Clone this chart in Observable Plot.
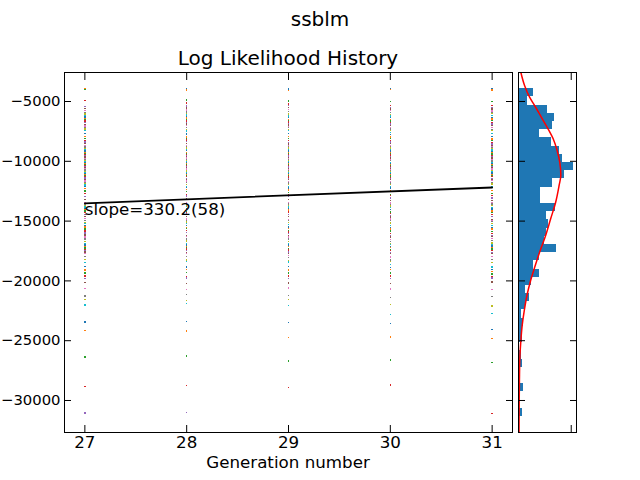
<!DOCTYPE html>
<html><head><meta charset="utf-8">
<script src="https://cdn.jsdelivr.net/npm/d3@7"></script>
<script src="https://cdn.jsdelivr.net/npm/@observablehq/plot@0.6"></script>
<style>
body{margin:0;background:#fff;}
#fig{position:relative;width:640px;height:480px;font-family:"DejaVu Sans",sans-serif;color:#000;overflow:hidden;}
#fig svg{position:absolute;left:0;top:0;}
.t{position:absolute;white-space:nowrap;line-height:normal;transform:translateX(-50%);}
</style></head><body>
<div id="fig">
<div class="t" style="left:320px;top:7px;font-size:20px">ssblm</div>
<div class="t" style="left:288px;top:46px;font-size:20px">Log Likelihood History</div>
<div class="t" style="left:288px;top:452px;font-size:16.7px">Generation number</div>
</div>
<script>
// ---- data ----
const generations = [27, 28, 29, 30, 31];
const gen27 = [-3943,-3962,-4015,-4930,-5420,-5610,-5750,-5905,-6050,-6180,-6290,-6410,-6530,-6620,-6760,-6900,-7040,-7180,-7300,-7450,-7690,-7930,-8110,-8250,-8390,-8530,-8670,-8800,-8910,-9020,-9130,-9250,-9360,-9470,-9560,-9650,-9740,-9840,-9950,-10050,-10150,-10230,-10310,-10390,-10470,-10560,-10650,-10740,-10840,-10930,-11020,-11110,-11200,-11300,-11410,-11530,-11640,-11750,-11860,-11970,-12090,-12250,-12480,-12720,-12950,-13180,-13420,-13590,-13700,-13820,-13930,-14050,-14160,-14290,-14450,-14610,-14800,-14960,-15090,-15220,-15360,-15500,-15660,-15820,-15990,-16170,-16340,-16510,-16680,-16870,-17010,-17120,-17240,-17350,-17460,-17570,-17720,-17960,-18210,-18450,-18800,-19080,-19330,-19590,-19820,-20150,-20640,-21250,-21580,-22010,-23450,-24120,-26350,-28820,-31040];
const gen28 = [-3945,-4030,-4870,-5120,-5380,-5540,-5700,-5880,-6020,-6140,-6260,-6380,-6500,-6640,-6730,-6870,-7010,-7150,-7320,-7480,-7720,-7980,-8090,-8230,-8370,-8510,-8690,-8760,-8880,-9000,-9120,-9240,-9390,-9450,-9540,-9640,-9730,-9830,-9930,-10070,-10130,-10210,-10300,-10380,-10460,-10550,-10640,-10760,-10820,-10910,-11000,-11100,-11190,-11290,-11440,-11510,-11650,-11790,-11930,-12110,-12200,-12360,-12540,-12780,-12900,-13150,-13460,-13570,-13680,-13800,-13920,-14040,-14180,-14260,-14420,-14600,-14830,-14940,-15070,-15210,-15350,-15530,-15630,-15800,-15970,-16200,-16310,-16490,-16660,-16900,-16990,-17100,-17220,-17330,-17440,-17600,-17690,-17940,-18250,-18400,-18850,-19050,-19310,-19620,-19760,-20200,-20700,-21150,-21620,-21900,-23380,-24200,-26280,-28750,-30980];
const gen29 = [-3950,-4060,-4950,-5200,-5350,-5520,-5680,-5850,-6040,-6200,-6350,-6490,-6630,-6720,-6840,-6960,-7080,-7200,-7320,-7420,-7650,-7900,-8120,-8260,-8400,-8540,-8680,-8780,-8900,-9030,-9150,-9270,-9380,-9460,-9570,-9670,-9770,-9870,-9970,-10060,-10140,-10220,-10320,-10400,-10490,-10580,-10670,-10750,-10830,-10920,-11030,-11120,-11220,-11320,-11430,-11540,-11680,-11820,-11960,-12100,-12220,-12400,-12590,-12800,-12920,-13200,-13480,-13560,-13690,-13810,-13950,-14070,-14190,-14250,-14430,-14620,-14850,-14970,-15140,-15300,-15480,-15640,-15770,-15900,-16040,-16210,-16330,-16500,-16690,-16880,-17000,-17150,-17290,-17430,-17590,-17700,-17880,-18060,-18270,-18420,-18780,-19100,-19350,-19600,-19800,-20180,-20600,-21200,-21550,-22080,-23500,-24750,-26700,-28900];
const gen30 = [-3948,-3990,-5010,-5340,-5480,-5620,-5760,-5920,-6060,-6210,-6360,-6500,-6640,-6750,-6890,-7030,-7170,-7310,-7410,-7580,-7760,-7960,-8100,-8240,-8380,-8520,-8660,-8770,-8890,-9010,-9140,-9260,-9370,-9480,-9600,-9720,-9840,-9960,-10080,-10120,-10190,-10260,-10340,-10420,-10500,-10580,-10660,-10750,-10850,-10940,-11040,-11140,-11240,-11340,-11450,-11520,-11670,-11810,-11950,-12120,-12240,-12470,-12760,-12880,-13080,-13280,-13490,-13600,-13730,-13870,-14010,-14170,-14240,-14380,-14520,-14660,-14820,-14950,-15150,-15340,-15520,-15650,-15830,-16010,-16190,-16320,-16520,-16700,-16910,-16980,-17110,-17230,-17360,-17480,-17610,-17730,-17990,-18240,-18380,-18620,-18900,-19060,-19340,-19580,-19780,-20230,-20680,-21380,-21960,-22820,-23560,-24680,-26620,-28700];
const gen31 = [-3955,-4040,-4980,-5360,-5500,-5640,-5790,-5940,-6030,-6170,-6310,-6460,-6610,-6740,-6880,-7020,-7160,-7330,-7440,-7700,-7950,-8130,-8270,-8410,-8550,-8700,-8750,-8850,-8950,-9060,-9170,-9280,-9400,-9490,-9610,-9730,-9850,-9970,-10090,-10110,-10180,-10250,-10330,-10410,-10490,-10570,-10650,-10770,-10810,-10900,-10990,-11090,-11180,-11280,-11420,-11500,-11630,-11770,-11910,-12080,-12180,-12420,-12700,-12870,-13060,-13250,-13470,-13580,-13720,-13860,-14000,-14150,-14280,-14460,-14640,-14860,-14930,-15060,-15200,-15370,-15540,-15670,-15850,-16030,-16230,-16290,-16470,-16650,-16830,-16970,-17090,-17200,-17320,-17450,-17620,-17710,-17970,-18230,-18470,-18830,-19040,-19230,-19420,-19640,-19750,-20100,-20720,-21300,-22100,-22700,-24050,-24800,-26800,-31100];

const fitGen = [27, 31];
const fitValue = [-13510, -12189];
const slopeLabel = "slope=330.2(58)";

const xTicks = [27, 28, 29, 30, 31];
const yTicks = [-30000, -25000, -20000, -15000, -10000, -5000];
const xDomain = [26.8, 31.2];
const yDomain = [-32676, -2575];

// histogram binning of all log likelihoods
const histLow = -31338, histBinWidth = 685, histBinCount = 40;
const histTicks = [40];
const histDomain = [0, 44];

// fitted density curve, in count units
const curveValue = [-2575,-3662,-4640,-5334,-6313,-7283,-8119,-9097,-10075,-11187,-12023,-13420,-14807,-16204,-17600,-18712,-19966,-21220,-22474,-23729,-24983,-26237,-28327,-30500,-32676];
const curveCount = [1.8,4.6,8.4,12.2,17.3,22.4,26.3,29.3,31.3,32.1,30.8,28.2,24.4,20.6,16.0,12.7,9.2,6.4,4.4,2.8,1.8,1.1,0.7,0.5,0.4];

// ---- build ----
const palette = d3.schemeCategory10;
const scatter = [];
[gen27, gen28, gen29, gen30, gen31].forEach((vals, k) =>
  vals.forEach((v, i) => scatter.push({gen: generations[k], value: v, color: palette[i % 10]})));
const fitRows = fitGen.map((g, i) => ({gen: g, value: fitValue[i]}));
const labelRows = [{gen: fitGen[0], value: fitValue[0], text: slopeLabel}];

const allValues = scatter.map(d => d.value);
const edges = d3.range(histBinCount + 1).map(i => histLow + i * histBinWidth);
const bins = d3.bin().domain([edges[0], edges[edges.length - 1]]).thresholds(edges.slice(1, -1))(allValues);
const curveRows = curveValue.map((v, i) => ({value: v, count: curveCount[i]}));

const fs = 16.7;
const yfs = 14.8;
const common = {
  width: 640, height: 480, marginTop: 72, marginBottom: 48,
  style: {background: "transparent", fontFamily: "DejaVu Sans", fontSize: "16.7px", color: "black"}
};
const blank = () => "";

const main = Plot.plot({
  ...common, marginLeft: 64, marginRight: 128,
  x: {domain: xDomain},
  y: {domain: yDomain},
  color: {type: "identity"},
  marks: [
    Plot.dot(scatter, {x: "gen", y: "value", fill: "color", r: 0.75, symbol: "square", shapeRendering: "crispEdges"}),
    Plot.line(fitRows, {x: "gen", y: "value", stroke: "black", strokeWidth: 1.8}),
    Plot.text(labelRows, {x: "gen", y: "value", text: "text", textAnchor: "start", lineAnchor: "top", fontSize: fs, fill: "black"}),
    Plot.frame({stroke: "black"}),
    Plot.axisX(xTicks, {anchor: "bottom", tickSize: 0, tickPadding: 3.5, tickFormat: d3.format("d"), label: null, fontSize: fs}),
    Plot.axisX(xTicks, {anchor: "bottom", tickSize: 7, dy: -7, tickFormat: blank, label: null}),
    Plot.axisX(xTicks, {anchor: "top", tickSize: 7, dy: 7, tickFormat: blank, label: null}),
    Plot.axisY(yTicks, {anchor: "left", tickSize: 0, tickPadding: 4, tickFormat: d3.format("d"), label: null, fontSize: yfs}),
    Plot.axisY(yTicks, {anchor: "left", tickSize: 7, dx: 7, tickFormat: blank, label: null}),
    Plot.axisY(yTicks, {anchor: "right", tickSize: 7, dx: -7, tickFormat: blank, label: null})
  ]
});

const hist = Plot.plot({
  ...common, marginLeft: 518, marginRight: 64,
  x: {domain: histDomain},
  y: {domain: yDomain},
  marks: [
    Plot.rectX(bins, {x: d => d.length, y1: "x0", y2: "x1", fill: "#1f77b4", shapeRendering: "crispEdges"}),
    Plot.line(curveRows, {x: "count", y: "value", stroke: "red", strokeWidth: 1.5, curve: "monotone-y", clip: true}),
    Plot.frame({stroke: "black"}),
    Plot.axisY(yTicks, {anchor: "left", tickSize: 7, dx: 7, tickFormat: blank, label: null}),
    Plot.axisY(yTicks, {anchor: "right", tickSize: 7, dx: -7, tickFormat: blank, label: null}),
    Plot.axisX(histTicks, {anchor: "bottom", tickSize: 7, dy: -7, tickFormat: blank, label: null}),
    Plot.axisX(histTicks, {anchor: "top", tickSize: 7, dy: 7, tickFormat: blank, label: null})
  ]
});

const fig = document.getElementById("fig");
fig.appendChild(main);
fig.appendChild(hist);
</script>
</body></html>
